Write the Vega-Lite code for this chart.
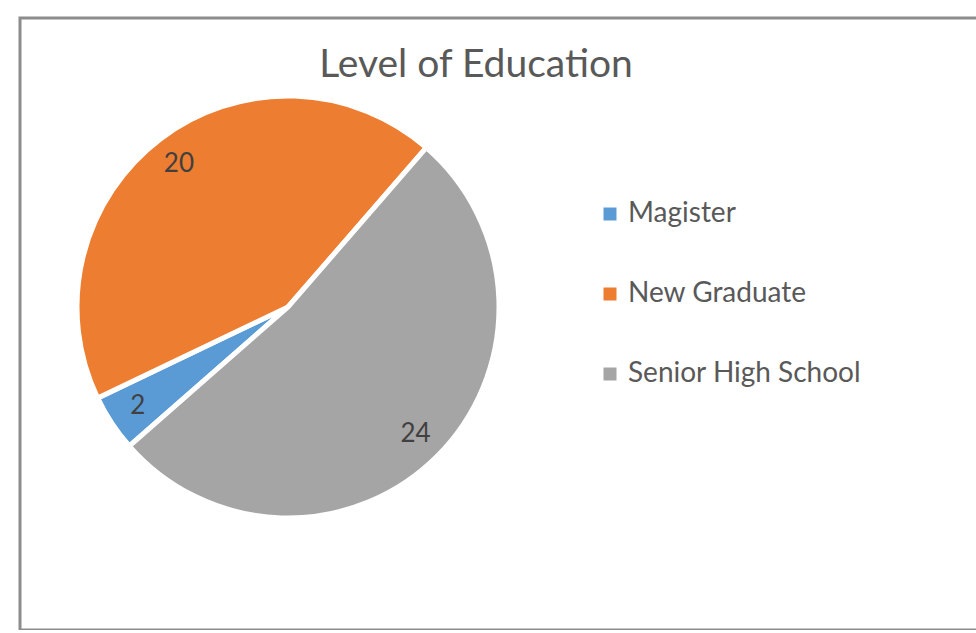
{
  "$schema": "https://vega.github.io/schema/vega-lite/v6.json",
  "autosize": {"type": "none"},
  "padding": {"left": 20, "top": 18, "right": 0, "bottom": 0},
  "width": 970,
  "height": 612,
  "background": "white",
  "config": {
    "view": {"stroke": "#8c8c8c", "strokeWidth": 3},
    "font": "Lato"
  },
  "title": {
    "text": "Level of Education",
    "font": "Lato",
    "fontSize": 39,
    "fontWeight": "normal",
    "color": "#595959",
    "anchor": "middle",
    "frame": "group",
    "baseline": "alphabetic",
    "offset": 0,
    "dx": -29,
    "dy": 98
  },
  "data": {
    "values": [
      {"level": "Magister", "count": 2},
      {"level": "New Graduate", "count": 20},
      {"level": "Senior High School", "count": 24}
    ]
  },
  "encoding": {
    "theta": {"field": "count", "type": "quantitative", "stack": true, "scale": {"range": [3.993, 10.276]}},
    "order": {"field": "level", "type": "ordinal", "sort": "ascending"},
    "x": {"datum": 0.2763, "type": "quantitative", "scale": {"domain": [0, 1]}, "axis": null},
    "y": {"datum": 0.5278, "type": "quantitative", "scale": {"domain": [0, 1]}, "axis": null}
  },
  "layer": [
    {
      "mark": {"type": "arc", "outerRadius": 211, "stroke": "white", "strokeWidth": 5},
      "encoding": {
        "color": {
          "field": "level",
          "type": "nominal",
          "scale": {"domain": ["Magister", "New Graduate", "Senior High School"], "range": ["#5B9BD5", "#ED7D31", "#A5A5A5"]},
          "legend": {
            "title": null,
            "orient": "none",
            "legendX": 576,
            "legendY": 182,
            "padding": 0,
            "symbolType": "square",
            "symbolSize": 169,
            "symbolStrokeWidth": 0,
            "labelFont": "Lato",
            "labelFontSize": 28,
            "labelColor": "#595959",
            "labelOffset": 4,
            "labelLimit": 500,
            "rowPadding": 52
          }
        }
      }
    },
    {
      "mark": {"type": "text", "radius": 180, "font": "Lato", "fontSize": 26, "color": "#404040"},
      "encoding": {
        "text": {"field": "count", "type": "quantitative"}
      }
    }
  ]
}
